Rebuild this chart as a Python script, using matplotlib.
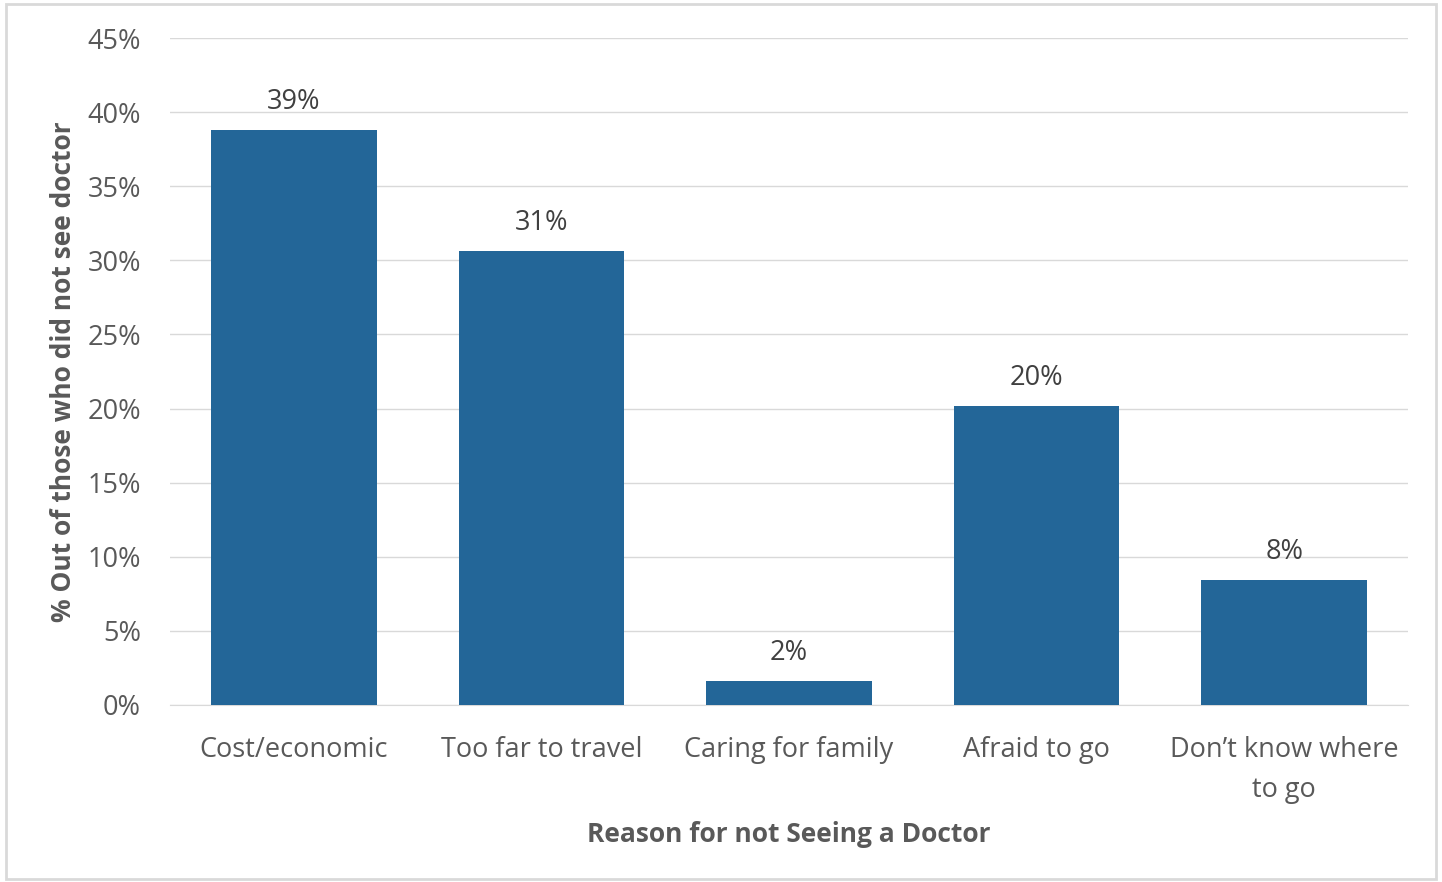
#! /usr/bin/env python

import matplotlib
matplotlib.use("Agg")
import matplotlib.pyplot as plt
from matplotlib.patches import Rectangle
from matplotlib.ticker import FuncFormatter

plt.rcParams['font.family'] = ['Open Sans', 'DejaVu Sans']

REASONS = ['Cost/economic', 'Too far to travel', 'Caring for family', 'Afraid to go', 'Don\u2019t know where\nto go']
SHARE = [38.8, 30.6, 1.6, 20.2, 8.4]  # % of those who did not see a doctor
Y_TICKS = [0, 5, 10, 15, 20, 25, 30, 35, 40, 45]

BAR_COLOR = '#236698'
TEXT_COLOR = '#595959'

fig = plt.figure(figsize=(14.42, 8.82), dpi=100)
ax = fig.add_axes([0.1179, 0.2007, 0.8585, 0.7562])

x = range(len(REASONS))
bars = ax.bar(x, SHARE, width=0.668, color=BAR_COLOR, zorder=3)

for b, v in zip(bars, SHARE):
    ax.text(b.get_x() + b.get_width() / 2, v + 0.95, f"{round(v)}%",
            ha='center', va='bottom', fontsize=19.5, color='#404040')

ax.set_xlim(-0.5, len(REASONS) - 0.5)
ax.set_ylim(0, 45)
ax.set_yticks(Y_TICKS)
ax.yaxis.set_major_formatter(FuncFormatter(lambda v, _: f"{int(v)}%"))
ax.set_xticks(list(x))
ax.set_xticklabels(REASONS, fontsize=19.5, color=TEXT_COLOR, linespacing=1.6)
ax.tick_params(axis='y', labelsize=19.5, labelcolor=TEXT_COLOR, length=0, pad=21)
ax.tick_params(axis='x', length=0, pad=22)

ax.grid(axis='y', color='#d9d9d9', linewidth=1, zorder=0)
for s in ['top', 'right', 'left']:
    ax.spines[s].set_visible(False)
ax.spines['bottom'].set_color('#d9d9d9')

ax.set_xlabel('Reason for not Seeing a Doctor', fontsize=19, fontweight='bold',
              color=TEXT_COLOR, labelpad=12)
ax.set_ylabel('% Out of those who did not see doctor', fontsize=19, fontweight='bold',
              color=TEXT_COLOR, labelpad=7)

# light frame around the whole chart
fig.patches.append(Rectangle((0.004, 0.003), 0.992, 0.992, transform=fig.transFigure,
                             fill=False, edgecolor='#d9d9d9', linewidth=2))

fig.savefig('out.png', dpi=100)
